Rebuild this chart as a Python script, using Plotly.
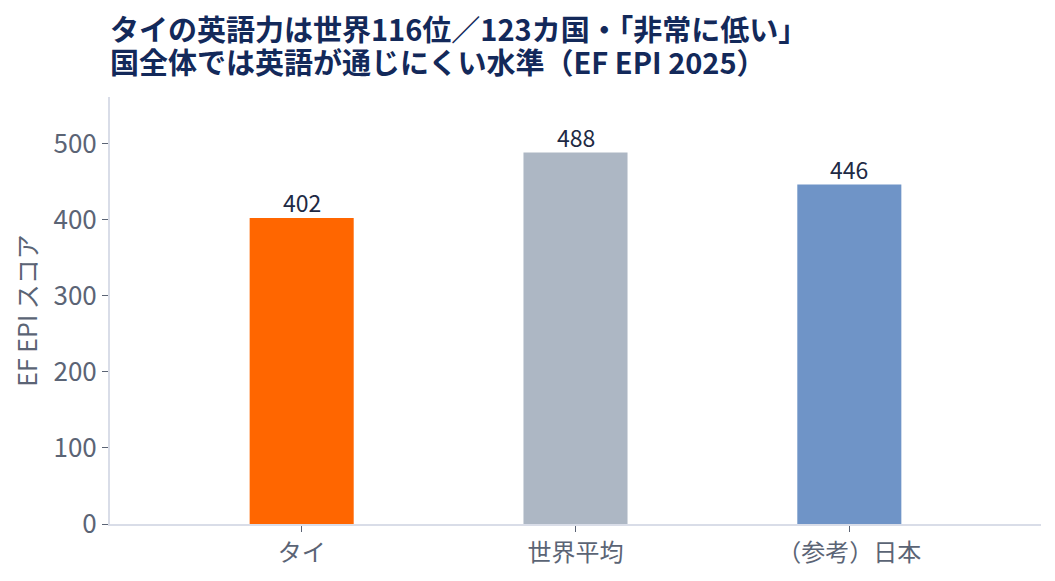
import plotly.graph_objects as go

# data
categories = ["タイ", "世界平均", "（参考）日本"]
scores = [402, 488, 446]
bar_colors = ["#ff6600", "#adb7c4", "#6f94c7"]

title_lines = [
    "タイの英語力は世界116位／123カ国・「非常に低い」",
    "国全体では英語が通じにくい水準（EF EPI 2025）",
]
font_family = "Noto Sans CJK JP"

fig = go.Figure()

fig.add_trace(go.Bar(
    x=categories,
    y=scores,
    marker=dict(color=bar_colors, line=dict(width=0)),
    width=0.38,
    showlegend=False,
))

# value labels sit just above each bar
for cat, val in zip(categories, scores):
    fig.add_annotation(
        x=cat, y=val, xref="x", yref="y",
        text=str(val),
        xanchor="center", yanchor="bottom",
        yshift=-3,
        showarrow=False,
        font=dict(size=23, color="#1e2a44", family=font_family),
    )

# two title lines as separate annotations (tighter line spacing)
for i, line in enumerate(title_lines):
    fig.add_annotation(
        text=line,
        xref="paper", yref="paper",
        x=0, y=1, xanchor="left", yanchor="middle",
        xshift=-2,
        yshift=70 - 33 * i,
        height=33,
        align="left",
        showarrow=False,
        font=dict(size=29, color="#13295a", family=font_family, weight="bold"),
    )

fig.update_layout(
    width=1055,
    height=581,
    # the page body adds 8px on the left and top
    margin=dict(l=102, r=22, t=89, b=65),
    paper_bgcolor="white",
    plot_bgcolor="white",
    font=dict(family=font_family, color="#5b6475"),
    xaxis=dict(
        range=[-0.7, 2.7],
        automargin=False,
        showline=True,
        linecolor="#d9dde8",
        linewidth=2,
        ticks="outside",
        tickcolor="#5b6475",
        ticklen=6,
        tickwidth=1,
        tickfont=dict(size=24, color="#5b6475"),
        showgrid=False,
    ),
    yaxis=dict(
        range=[0, 561],
        automargin=False,
        showline=True,
        linecolor="#d9dde8",
        linewidth=2,
        ticks="outside",
        tickcolor="#5b6475",
        ticklen=6,
        tickwidth=1,
        tickvals=[0, 100, 200, 300, 400, 500],
        tickfont=dict(size=26, color="#5b6475"),
        showgrid=False,
        zeroline=False,
        title=dict(text="EF EPI スコア", font=dict(size=25, color="#5b6475"), standoff=10),
    ),
)

fig.write_html("out.html")
